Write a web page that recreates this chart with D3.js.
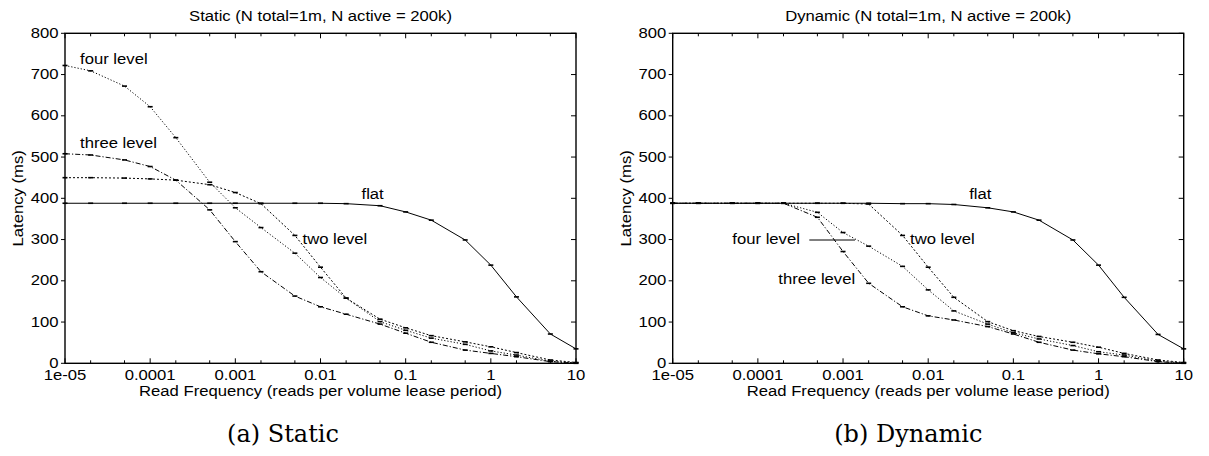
<!DOCTYPE html>
<html>
<head>
<meta charset="utf-8">
<script src="https://cdn.jsdelivr.net/npm/d3@7"></script>
<style>
  html, body { margin: 0; padding: 0; background: #fff; }
  svg { display: block; }
  text { font-family: "Liberation Sans", Arial, sans-serif; fill: #000; }
</style>
</head>
<body>
<svg id="chart" width="1209" height="456"></svg>
<script>
// ---------------- data ----------------
const xValues = [1e-5, 2e-5, 5e-5, 1e-4, 2e-4, 5e-4, 1e-3, 2e-3, 5e-3, 0.01, 0.02, 0.05, 0.1, 0.2, 0.5, 1, 2, 5, 10];

const staticFlat  = [388, 388, 388, 388, 388, 388, 388, 388, 388, 388, 387, 382, 367, 347, 299, 238, 161, 71, 35];
const staticTwo   = [450, 450, 449, 447, 444, 433, 414, 387, 310, 233, 158, 107, 86, 67, 52, 40, 26, 8, 2];
const staticFour  = [722, 709, 672, 622, 547, 439, 377, 329, 267, 208, 158, 101, 80, 61, 46, 30, 20, 5, 1];
const staticThree = [508, 505, 493, 477, 444, 372, 295, 222, 163, 137, 119, 95, 73, 51, 32, 24, 16, 4, 0];

const dynamicFlat  = [388, 388, 388, 388, 388, 388, 388, 388, 387, 387, 385, 377, 367, 347, 299, 238, 160, 70, 35];
const dynamicTwo   = [388, 388, 388, 388, 388, 388, 388, 386, 310, 233, 160, 101, 79, 65, 51, 39, 24, 8, 2];
const dynamicFour  = [388, 388, 388, 388, 388, 366, 317, 284, 235, 178, 127, 95, 74, 59, 43, 28, 20, 5, 1];
const dynamicThree = [388, 388, 388, 388, 388, 354, 271, 194, 137, 115, 105, 89, 71, 51, 32, 23, 16, 4, 0];

const yTickValues = [0, 100, 200, 300, 400, 500, 600, 700, 800];
const xMajorTicks = [1e-5, 1e-4, 1e-3, 1e-2, 1e-1, 1, 10];
const xTickLabels = ["1e-05", "0.0001", "0.001", "0.01", "0.1", "1", "10"];
const xMinorTicks = [2e-5, 5e-5, 2e-4, 5e-4, 2e-3, 5e-3, 2e-2, 5e-2, 0.2, 0.5, 2, 5];

const titles = ["Static (N total=1m, N active = 200k)", "Dynamic (N total=1m, N active = 200k)"];
const captions = ["(a) Static", "(b) Dynamic"];
const seriesNames = ["flat", "two level", "four level", "three level"];
const xAxisTitle = "Read Frequency (reads per volume lease period)";
const yAxisTitle = "Latency (ms)";

// ---------------- drawing ----------------
const svg = d3.select("#chart");
const SX = 1.15;     // horizontal stretch of the original typeface
const FS = 14.5;

function txt(g, s, x, y, anchor, extra) {
  return g.append("text")
    .attr("transform", `translate(${x},${y}) ${extra || ""} scale(${SX},1)`)
    .attr("text-anchor", anchor || "start")
    .style("font-size", FS + "px")
    .text(s);
}

const dashes = {
  "flat": null,
  "two level": "2,2",
  "four level": "1.2,2",
  "three level": "5,2,1.2,2"
};

function panel(offsetX, series, labelPos, title, caption, captionX, keyLine) {
  const g = svg.append("g").attr("transform", `translate(${offsetX},0)`);
  const x = d3.scaleLog().domain([1e-5, 10]).range([65, 576]);
  const y = d3.scaleLinear().domain([0, 800]).range([363.3, 33.3]);
  const [x0, x1] = x.range();
  const [y0, y1] = y.range();

  // ticks
  const tk = g.append("g").attr("stroke", "#000").attr("stroke-width", 1);
  yTickValues.forEach(v => {
    tk.append("line").attr("x1", x0 - 4).attr("x2", x0).attr("y1", y(v)).attr("y2", y(v));
    tk.append("line").attr("x1", x1 - 5).attr("x2", x1).attr("y1", y(v)).attr("y2", y(v));
  });
  xMajorTicks.forEach(v => {
    tk.append("line").attr("x1", x(v)).attr("x2", x(v)).attr("y1", y0).attr("y2", y0 - 5);
    tk.append("line").attr("x1", x(v)).attr("x2", x(v)).attr("y1", y1).attr("y2", y1 + 5);
  });
  xMinorTicks.forEach(v => {
    tk.append("line").attr("x1", x(v)).attr("x2", x(v)).attr("y1", y0).attr("y2", y0 - 3);
    tk.append("line").attr("x1", x(v)).attr("x2", x(v)).attr("y1", y1).attr("y2", y1 + 3);
  });

  // tick labels
  yTickValues.forEach(v => txt(g, String(v), 58.5, y(v) + 4.5, "end"));
  xMajorTicks.forEach((v, i) => txt(g, xTickLabels[i], x(v), 380, "middle"));

  // series
  const line = d3.line().x((d, i) => x(xValues[i])).y(d => y(d));
  series.forEach(s => {
    g.append("path").datum(s.values)
      .attr("d", line)
      .attr("fill", "none")
      .attr("stroke", "#000")
      .attr("stroke-width", 1)
      .attr("stroke-dasharray", dashes[s.name]);
    g.append("g").selectAll("line").data(s.values).join("line")
      .attr("x1", (d, i) => x(xValues[i]) - 2.5)
      .attr("x2", (d, i) => x(xValues[i]) + 2.5)
      .attr("y1", d => y(d))
      .attr("y2", d => y(d))
      .attr("stroke", "#000")
      .attr("stroke-width", 1.6);
  });

  // frame
  g.append("rect").attr("x", x0).attr("y", y1).attr("width", x1 - x0).attr("height", y0 - y1)
    .attr("fill", "none").attr("stroke", "#000").attr("stroke-width", 1.4);

  // labels
  labelPos.forEach(l => txt(g, l.name, l.x, l.y, "start"));
  if (keyLine) {
    g.append("line").attr("x1", keyLine[0]).attr("x2", keyLine[1]).attr("y1", keyLine[2]).attr("y2", keyLine[2])
      .attr("stroke", "#000").attr("stroke-width", 1);
  }

  txt(g, title, (x0 + x1) / 2, 20.5, "middle");
  txt(g, xAxisTitle, (x0 + x1) / 2, 395.5, "middle");
  txt(g, yAxisTitle, 23, (y0 + y1) / 2, "middle", "rotate(-90)");

  g.append("text")
    .attr("x", captionX).attr("y", 442)
    .attr("text-anchor", "middle")
    .style("font-family", "'DejaVu Serif', serif")
    .style("font-size", "24px")
    .text(caption);
}

panel(0, [
  { name: "flat", values: staticFlat },
  { name: "two level", values: staticTwo },
  { name: "four level", values: staticFour },
  { name: "three level", values: staticThree }
], [
  { name: "four level", x: 80, y: 64 },
  { name: "three level", x: 80, y: 148 },
  { name: "flat", x: 361.5, y: 199 },
  { name: "two level", x: 302.5, y: 244 }
], titles[0], captions[0], 283, null);

panel(607.7, [
  { name: "flat", values: dynamicFlat },
  { name: "two level", values: dynamicTwo },
  { name: "four level", values: dynamicFour },
  { name: "three level", values: dynamicThree }
], [
  { name: "flat", x: 361.5, y: 199 },
  { name: "two level", x: 302.3, y: 244 },
  { name: "four level", x: 124.6, y: 244 },
  { name: "three level", x: 170.6, y: 284 }
], titles[1], captions[1], 300.6, [201.6, 247.3, 240]);
</script>
</body>
</html>
